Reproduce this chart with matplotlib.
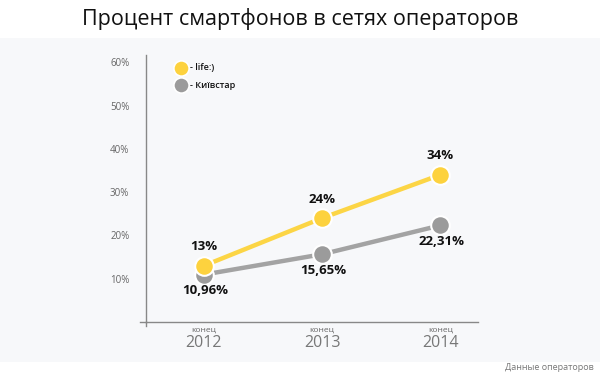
import matplotlib
matplotlib.use("Agg")
import matplotlib.pyplot as plt
from matplotlib.patches import Rectangle
from matplotlib.lines import Line2D

plt.rcParams['font.family'] = ['Open Sans', 'DejaVu Sans']

years = [2012, 2013, 2014]
year_labels = ["2012", "2013", "2014"]
life = [13, 24, 34]
kyivstar = [10.96, 15.65, 22.31]
life_labels = ["13%", "24%", "34%"]
kyiv_labels = ["10,96%", "15,65%", "22,31%"]
yticks = [10, 20, 30, 40, 50, 60]

W, H = 600, 379
fig = plt.figure(figsize=(6, 3.79), dpi=100)
fig.patch.set_facecolor("white")
bg = Rectangle((0, 1 - 362 / H), 1, (362 - 38) / H, transform=fig.transFigure,
               facecolor="#f7f8fa", edgecolor="none", zorder=-10)
fig.add_artist(bg)

ax = fig.add_axes([146 / W, 1 - 322 / H, (478 - 146) / W, (322 - 55) / H])
ax.set_zorder(1)
ax.set_facecolor("none")
ax.set_xlim(2011.51, 2014.32)
ax.set_ylim(0, 61.7)

yellow = "#fdd23e"
gray = "#9b9b9b"

ax.plot(years, kyivstar, color="#a3a3a3", lw=3.2, solid_capstyle="butt", zorder=2)
ax.plot(years, life, color="#fcd545", lw=3.2, solid_capstyle="butt", zorder=3)
ax.scatter(years, kyivstar, s=180, color=gray, edgecolor="white", linewidth=1.5, zorder=4)
ax.scatter(years, life, s=180, color=yellow, edgecolor="white", linewidth=1.5, zorder=5)

for x, y, t in zip(years, life, life_labels):
    ax.annotate(t, (x, y), xytext=(0, 9), textcoords="offset points", ha="center", va="bottom",
                fontsize=9.5, fontweight="bold", color="#111111", zorder=6)
for x, y, t in zip(years, kyivstar, kyiv_labels):
    ax.annotate(t, (x, y), xytext=(1, -7), textcoords="offset points", ha="center", va="top",
                fontsize=9.5, fontweight="bold", color="#111111", zorder=6)

for s in ["top", "right"]:
    ax.spines[s].set_visible(False)
for s in ["left", "bottom"]:
    ax.spines[s].set_color("#888888")
    ax.spines[s].set_linewidth(1.0)

ax.set_yticks(yticks)
ax.set_yticklabels([f"{v}%" for v in yticks], fontsize=7, color="#666666")
ax.tick_params(axis="y", length=0, pad=12)
ax.set_xticks(years)
ax.set_xticklabels([])
ax.tick_params(axis="x", length=0)

# small crossing extensions of axes
fig.add_artist(Line2D([140 / W, 146 / W], [1 - 322 / H] * 2, color="#888888", lw=1.0))
fig.add_artist(Line2D([146 / W] * 2, [1 - 322 / H, 1 - 326 / H], color="#888888", lw=1.0))

for x, t in zip(years, year_labels):
    ax.annotate("конец", (x, 0), xytext=(0, -3), textcoords="offset points", ha="center",
                va="top", fontsize=6, color="#666666", annotation_clip=False)
    ax.annotate(t, (x, 0), xytext=(0, -9.5), textcoords="offset points", ha="center",
                va="top", fontsize=11.5, color="#777777", annotation_clip=False)

# legend
fig.add_artist(Line2D([181 / W], [1 - 68 / H], marker="o", markersize=11, color=yellow,
                      markeredgecolor="white", markeredgewidth=1.2, linestyle="none"))
fig.add_artist(Line2D([181 / W], [1 - 85 / H], marker="o", markersize=11, color=gray,
                      markeredgecolor="white", markeredgewidth=1.2, linestyle="none"))
fig.text(190 / W, 1 - 68 / H, "- life:)", fontsize=6.5, color="#111111", va="center", fontweight="semibold")
fig.text(190 / W, 1 - 85 / H, "- Київстар", fontsize=6.5, color="#111111", va="center", fontweight="semibold")

fig.text(0.5, 1 - 19 / H, "Процент смартфонов в сетях операторов", ha="center", va="center",
         fontsize=15.5, color="#111111")
fig.text(594 / W, 1 - 368 / H, "Данные операторов", ha="right", va="center",
         fontsize=6.5, color="#777777")

fig.savefig("out.png", dpi=100)
